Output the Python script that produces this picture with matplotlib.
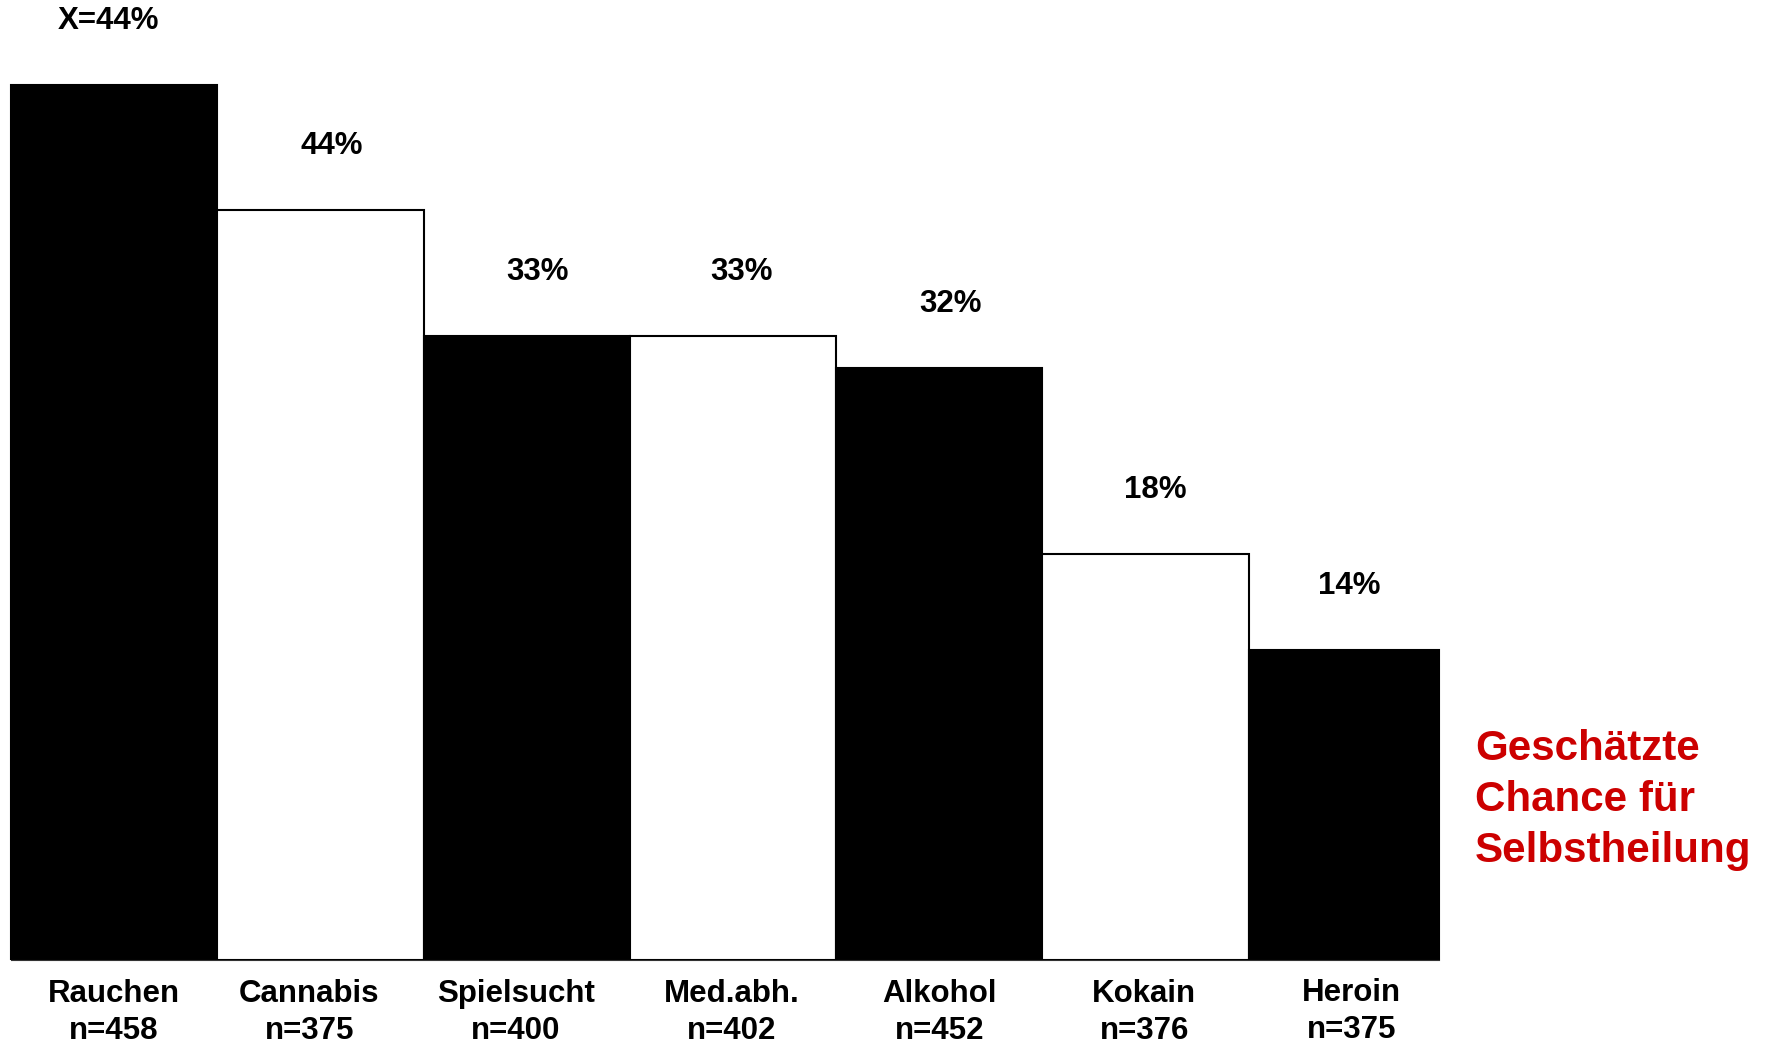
import matplotlib
matplotlib.use("Agg")
import matplotlib.pyplot as plt

plt.rcParams['font.family'] = ['Liberation Sans', 'DejaVu Sans']

# Daten
categories = ["Rauchen", "Cannabis", "Spielsucht", "Med.abh.", "Alkohol", "Kokain", "Heroin"]
n_values = [458, 375, 400, 402, 452, 376, 375]
# Balkenhöhen wie im Bild gezeichnet (nicht proportional zu den Beschriftungen)
bar_heights = [51.3, 44.0, 36.6, 36.6, 34.7, 23.8, 18.2]
value_labels = ["X=44%", "44%", "33%", "33%", "32%", "18%", "14%"]
bar_colors = ["black", "white", "black", "white", "black", "white", "black"]
bar_widths = [1, 1, 1, 1, 1, 1, 0.92]
side_text = "Geschätzte\nChance für\nSelbstheilung"

fig = plt.figure(figsize=(17.67, 10.46), dpi=100)
ax = fig.add_axes([0, 86 / 1046, 1, 960 / 1046])

x = range(len(categories))
lefts = [i - 0.5 for i in x]
ax.bar(lefts, bar_heights, width=bar_widths, align='edge', color=bar_colors,
       edgecolor='black', linewidth=1.5)

ax.set_xlim(-0.553, 8.012)
ax.set_ylim(0, 56.3)

# Beschriftungen über den Balken
label_dx = [-4, 8, 8, 6, 8, 7, -2]
for i, (h, lab) in enumerate(zip(bar_heights, value_labels)):
    ax.annotate(lab, (i, h), xytext=(label_dx[i], 46), textcoords='offset points',
                ha='center', va='center', fontsize=22.5, fontweight='bold')

# Kategorien unter den Balken
cat_dx = [0, -8, -8, -1, 0, -1, 0]
cat_dy = [-38, -38, -38, -38, -38, -38, -37]
for i, (cat, n) in enumerate(zip(categories, n_values)):
    ax.annotate(f"{cat}\nn={n}", (i, 0), xytext=(cat_dx[i], cat_dy[i]),
                textcoords='offset points', ha='center', va='center',
                fontsize=22.5, fontweight='bold', linespacing=1.3,
                annotation_clip=False)

for s in ['top', 'right', 'left']:
    ax.spines[s].set_visible(False)
ax.spines['bottom'].set_bounds(-0.5, len(categories) - 1.5 + bar_widths[-1])
ax.spines['bottom'].set_color('#333333')
ax.set_xticks([])
ax.set_yticks([])

fig.text(1475 / 1767, 1 - 800 / 1046, side_text, color='#cc0000', fontsize=30.3,
         fontweight='bold', ha='left', va='center', linespacing=1.34)

fig.savefig("out.png", dpi=100)
